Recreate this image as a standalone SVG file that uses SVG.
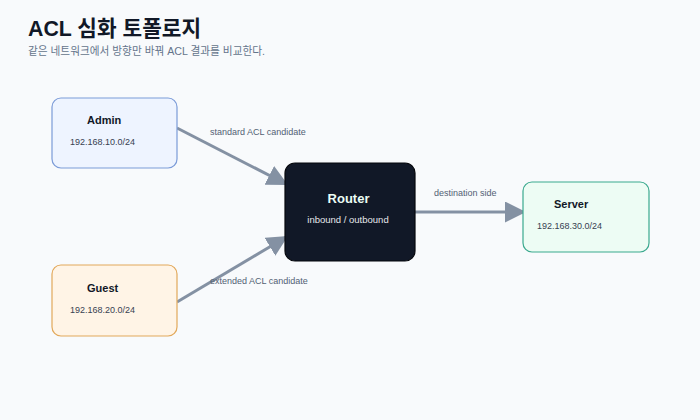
<svg xmlns="http://www.w3.org/2000/svg" width="700" height="420" viewBox="0 0 700 420">
  <defs>
    <marker id="arrow" viewBox="0 0 10 10" refX="10" refY="5" markerWidth="7" markerHeight="7" markerUnits="strokeWidth" orient="auto">
      <path d="M0,0 L10,5 L0,10 z" fill="#8491a3"/>
    </marker>
    <style>
      text { font-family: "Liberation Sans", Arial, "Noto Sans CJK KR", sans-serif; }
      .title { font-size: 22px; font-weight: bold; fill: #111827; }
      .sub { font-size: 11px; fill: #64748b; }
      .ntitle { font-size: 11px; font-weight: bold; fill: #111827; }
      .nsub { font-size: 9px; fill: #374151; }
      .elabel { font-size: 9px; fill: #536174; }
      .edge { stroke: #8491a3; stroke-width: 3; fill: none; marker-end: url(#arrow); }
    </style>
  </defs>
  <rect width="700" height="420" fill="#f8fafc"/>
  <text class="title" x="28" y="36" textLength="173" lengthAdjust="spacingAndGlyphs">ACL 심화 토폴로지</text>
  <text class="sub" x="28" y="55" textLength="237" lengthAdjust="spacingAndGlyphs">같은 네트워크에서 방향만 바꿔 ACL 결과를 비교한다.</text>

  <g id="connectors">
    <line class="edge" x1="177" y1="128" x2="288" y2="185"/>
    <line class="edge" x1="177" y1="302" x2="288" y2="236"/>
    <line class="edge" x1="415" y1="212" x2="526" y2="212"/>
    <text class="elabel" x="210" y="135">standard ACL candidate</text>
    <text class="elabel" x="210" y="284">extended ACL candidate</text>
    <text class="elabel" x="434" y="196">destination side</text>
  </g>

  <g id="admin">
    <rect x="52" y="98" width="125" height="70" rx="9" fill="#eef4ff" stroke="#7b9bd8" stroke-width="1.2"/>
    <text class="ntitle" x="87" y="124">Admin</text>
    <text class="nsub" x="70" y="145">192.168.10.0/24</text>
  </g>

  <g id="guest">
    <rect x="52" y="265" width="125" height="71" rx="9" fill="#fff4e6" stroke="#e2a85a" stroke-width="1.2"/>
    <text class="ntitle" x="87" y="292">Guest</text>
    <text class="nsub" x="70" y="313">192.168.20.0/24</text>
  </g>

  <g id="router">
    <rect x="285" y="163" width="130" height="98" rx="10" fill="#111827" stroke="#05070c" stroke-width="1.2"/>
    <text x="348.5" y="203" text-anchor="middle" font-size="13" font-weight="bold" fill="#ecfdf5">Router</text>
    <text x="348" y="223" text-anchor="middle" font-size="9.5" fill="#e5e7eb">inbound / outbound</text>
  </g>

  <g id="server">
    <rect x="523" y="182" width="126" height="70" rx="9" fill="#edfcf4" stroke="#3aa98e" stroke-width="1.2"/>
    <text class="ntitle" x="554" y="208">Server</text>
    <text class="nsub" x="537" y="229">192.168.30.0/24</text>
  </g>
</svg>
